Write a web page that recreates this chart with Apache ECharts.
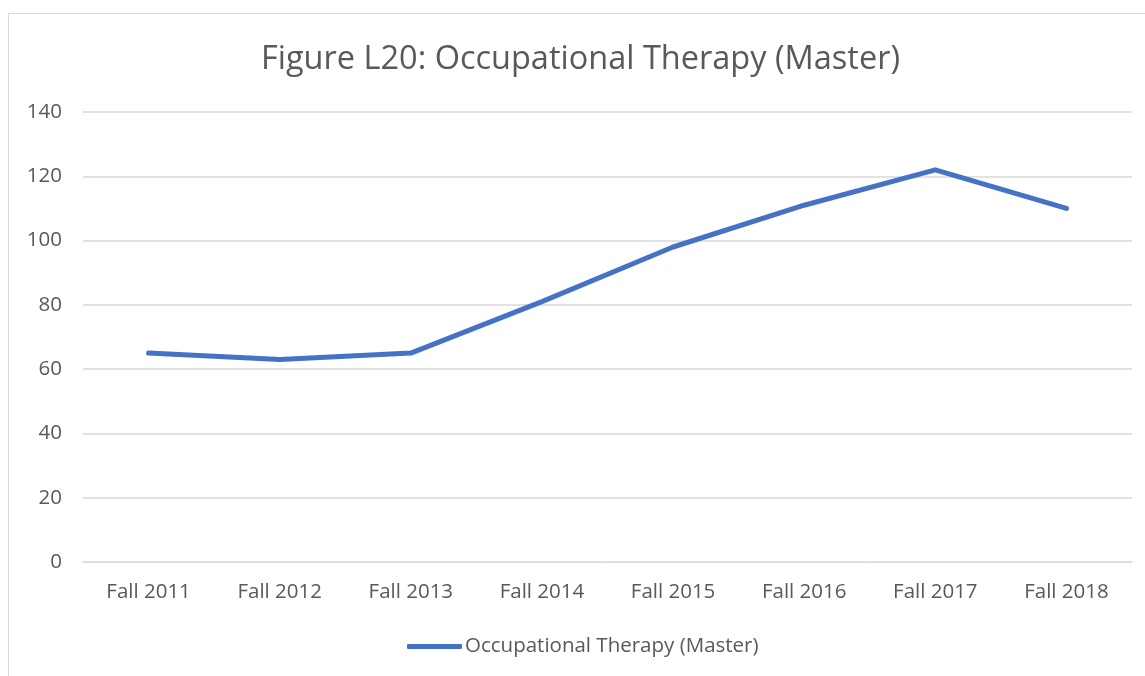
<!DOCTYPE html>
<html>
<head>
<meta charset="utf-8">
<script src="https://cdn.jsdelivr.net/npm/echarts@6/dist/echarts.min.js"></script>
<style>
html,body{margin:0;padding:0;background:#fff;}
#chart{width:1145px;height:676px;}
#frame{position:absolute;left:8px;top:13px;width:1140px;height:670px;border:1px solid #d9d9d9;box-sizing:border-box;pointer-events:none;}
</style>
</head>
<body>
<div id="chart"></div>
<div id="frame"></div>
<script>
var categories = ['Fall 2011','Fall 2012','Fall 2013','Fall 2014','Fall 2015','Fall 2016','Fall 2017','Fall 2018'];
var otValues = [65, 63, 65, 81, 98, 111, 122, 110];
var seriesName = 'Occupational Therapy (Master)';

var chart = echarts.init(document.getElementById('chart'));
var option = {
  animation: false,
  title: {
    text: 'Figure L20: Occupational Therapy (Master)',
    left: 256,
    top: 38,
    textStyle: {color:'#595959', fontSize:32.5, fontWeight:'normal', fontFamily:'Open Sans'}
  },
  legend: {
    bottom: 14,
    left: 402,
    data: [seriesName],
    itemWidth: 55,
    itemHeight: 5,
    itemGap: 4,
    icon: 'roundRect',
    textStyle: {color:'#595959', fontSize:20.5, fontFamily:'Open Sans', padding:[0,0,0,-2]}
  },
  grid: {left: 83, right: 13, top: 112, bottom: 114},
  xAxis: {
    type: 'category',
    data: categories,
    axisLine: {lineStyle:{color:'#d9d9d9'}},
    axisTick: {show:false},
    axisLabel: {color:'#595959', fontSize:20.5, fontFamily:'Open Sans', margin:20}
  },
  yAxis: {
    type: 'value',
    min: 0,
    max: 140,
    interval: 20,
    axisLine: {show:false},
    axisTick: {show:false},
    splitLine: {lineStyle:{color:'#d9d9d9', width:1.5}},
    axisLabel: {color:'#595959', fontSize:20.5, fontFamily:'Open Sans', margin:21}
  },
  series: [{
    name: seriesName,
    type: 'line',
    data: otValues,
    symbol: 'none',
    lineStyle: {color:'#4472c4', width:5, cap:'round', join:'round'},
    itemStyle: {color:'#4472c4'}
  }]
};
chart.setOption(option);
</script>
</body>
</html>
